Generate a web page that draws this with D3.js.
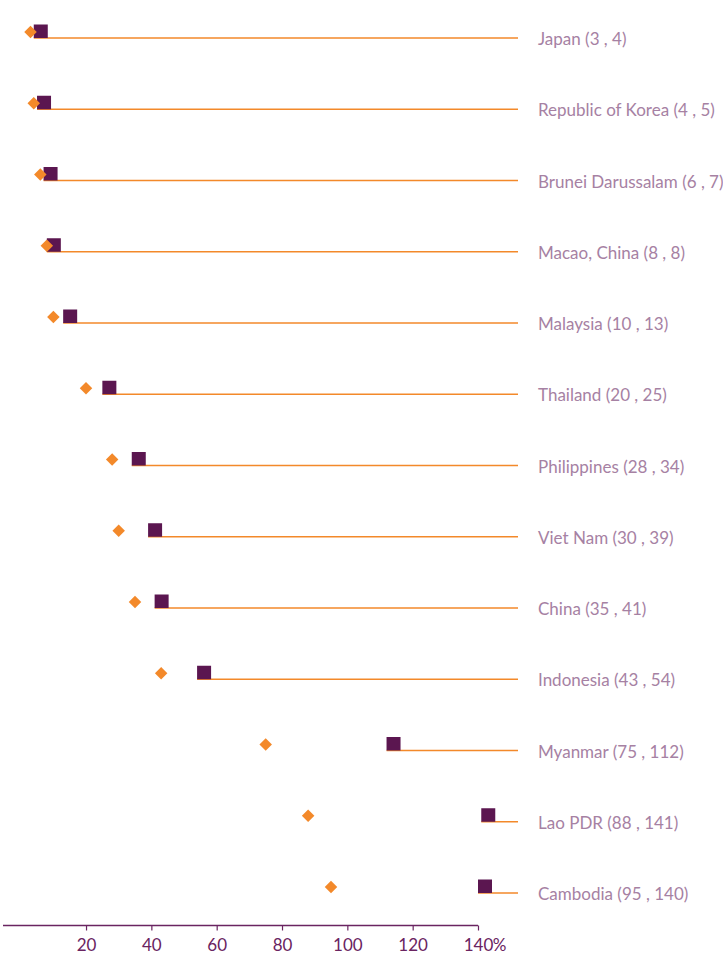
<!DOCTYPE html>
<html>
<head>
<meta charset="utf-8">
<script src="https://cdn.jsdelivr.net/npm/d3@7"></script>
<style>
  html, body { margin: 0; padding: 0; background: #fff; }
  svg { display: block; }
</style>
</head>
<body>
<svg id="chart" width="723" height="958"></svg>
<script>
const countries = ["Japan", "Republic of Korea", "Brunei Darussalam", "Macao, China", "Malaysia", "Thailand", "Philippines", "Viet Nam", "China", "Indonesia", "Myanmar", "Lao PDR", "Cambodia"];
const valuesA = [3, 4, 6, 8, 10, 20, 28, 30, 35, 43, 75, 88, 95];      // diamonds
const valuesB = [4, 5, 7, 8, 13, 25, 34, 39, 41, 54, 112, 141, 140];  // squares
const tickValues = [20, 40, 60, 80, 100, 120, 140];

const svg = d3.select("#chart");
const orange = "#f3892a";
const purple = "#5b1650";
const axisColor = "#6a2461";
const labelColor = "#a681a3";

const x = d3.scaleLinear().domain([0, 140]).range([20.7, 478]);
const y = d3.scalePoint().domain(countries).range([38, 893]);
const lineEnd = 518;

const data = countries.map((c, i) => ({ c, a: valuesA[i], b: valuesB[i] }));

const rows = svg.append("g").selectAll("g").data(data).join("g")
  .attr("transform", d => `translate(0,${y(d.c)})`);

rows.append("line")
  .attr("x1", d => x(d.b)).attr("x2", lineEnd)
  .attr("y1", 0).attr("y2", 0)
  .attr("stroke", orange).attr("stroke-width", 1.5);

rows.append("rect")
  .attr("x", d => x(d.b)).attr("y", -13.5)
  .attr("width", 14).attr("height", 13.5)
  .attr("fill", purple);

rows.append("path")
  .attr("d", d3.symbol().type(d3.symbolSquare).size(78)())
  .attr("transform", d => `translate(${x(d.a)},-6) rotate(45)`)
  .attr("fill", orange);

rows.append("text")
  .attr("x", 538).attr("y", 7)
  .attr("fill", labelColor)
  .style("font-family", "Lato, 'Open Sans', sans-serif")
  .style("font-size", "17px")
  .text(d => `${d.c} (${d.a} , ${d.b})`);

// axis
const axis = d3.axisBottom(x).tickValues(tickValues).tickSize(5).tickSizeOuter(0).tickFormat(d => d);
const ag = svg.append("g").attr("transform", "translate(0,925.5)").call(axis);
ag.select(".domain").attr("d", `M3,0H${x(140)}`).attr("stroke", axisColor).attr("stroke-width", 1.3);
ag.selectAll(".tick line").attr("stroke", axisColor).attr("stroke-width", 1.2);
ag.selectAll(".tick text")
  .attr("fill", axisColor)
  .attr("y", 13)
  .style("font-family", "Lato, 'Noto Sans', sans-serif")
  .style("font-size", "17px");
const lastText = ag.selectAll(".tick text").filter(d => d === 140).node();
const bb = lastText.getBBox();
ag.append("text")
  .attr("x", x(140) + bb.width / 2).attr("y", 13).attr("dy", "0.71em")
  .attr("fill", axisColor)
  .attr("text-anchor", "start")
  .style("font-family", "Lato, 'Noto Sans', sans-serif")
  .style("font-size", "17px")
  .text("%");
</script>
</body>
</html>
